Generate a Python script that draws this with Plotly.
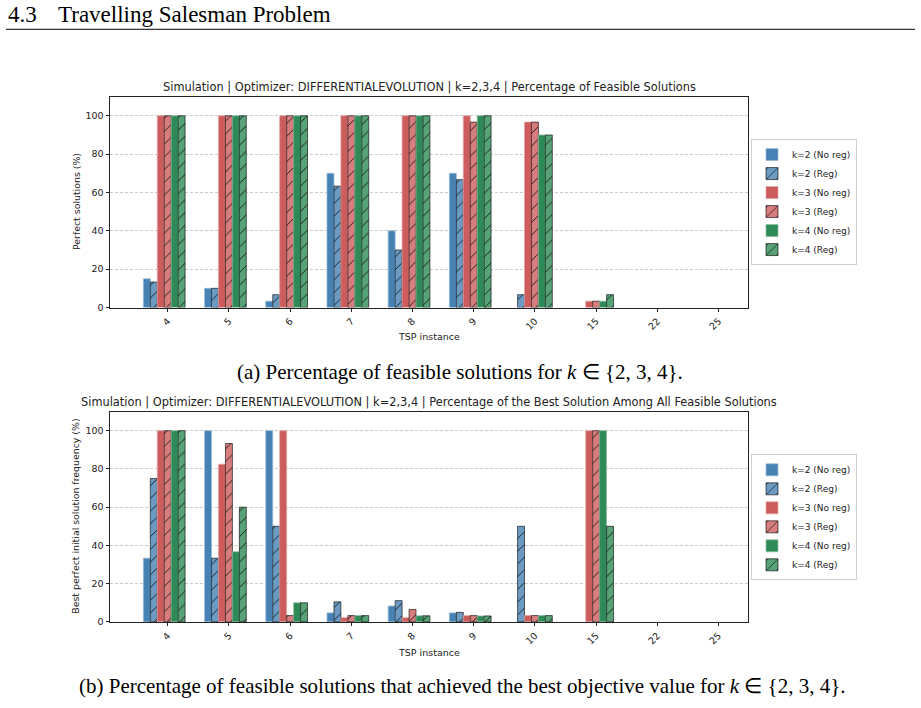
import plotly.graph_objects as go

# ---------------- data ----------------
instances = ["4", "5", "6", "7", "8", "9", "10", "15", "22", "25"]

series_names = ["k=2 (No reg)", "k=2 (Reg)", "k=3 (No reg)", "k=3 (Reg)", "k=4 (No reg)", "k=4 (Reg)"]

# (a) Percentage of feasible solutions
feas_k2_noreg = [15, 10, 3.3, 70, 40, 70, 0, 0, 0, 0]
feas_k2_reg = [13.3, 10, 6.7, 63.3, 30, 66.7, 6.7, 0, 0, 0]
feas_k3_noreg = [100, 100, 100, 100, 100, 100, 96.7, 3.3, 0, 0]
feas_k3_reg = [100, 100, 100, 100, 100, 96.7, 96.7, 3.3, 0, 0]
feas_k4_noreg = [100, 100, 100, 100, 100, 100, 90, 3.3, 0, 0]
feas_k4_reg = [100, 100, 100, 100, 100, 100, 90, 6.7, 0, 0]

# (b) Percentage of the best solution among all feasible solutions
best_k2_noreg = [33.3, 100, 100, 4.7, 8.3, 4.7, 0, 0, 0, 0]
best_k2_reg = [75, 33.3, 50, 10.5, 11.1, 5, 50, 0, 0, 0]
best_k3_noreg = [100, 82.5, 100, 2.2, 2.2, 3.3, 3.3, 100, 0, 0]
best_k3_reg = [100, 93.3, 3.3, 3.3, 6.5, 3.3, 3.3, 100, 0, 0]
best_k4_noreg = [100, 36.7, 10, 3.3, 3.2, 3.1, 3.3, 100, 0, 0]
best_k4_reg = [100, 60, 10, 3.3, 3.2, 3.1, 3.3, 50, 0, 0]

yticks = [0, 20, 40, 60, 80, 100]

# ---------------- styles ----------------
base_colors = ["rgb(70,130,180)", "rgb(107,155,195)",
               "rgb(205,92,92)", "rgb(215,125,125)",
               "rgb(46,139,87)", "rgb(88,162,120)"]
noreg_edges = ["rgba(150,185,215,0.9)", None, "rgba(230,160,160,0.9)", None, "rgba(140,190,160,0.9)", None]
is_reg = [False, True, False, True, False, True]

W, H = 921, 708
FONT = "DejaVu Sans"
SERIF = "Liberation Serif"
bar_w = 0.1136

def px_x(x):
    return x / W

def px_y(y):
    return 1 - y / H

fig = go.Figure()

def add_group(values_list, xa, ya, legend):
    for j, (name, vals) in enumerate(zip(series_names, values_list)):
        marker = dict(color=base_colors[j])
        if is_reg[j]:
            lw = [1.0 if v > 0 else 0 for v in vals]
            marker["line"] = dict(color="rgba(0,0,0,0.6)", width=lw)
            marker["pattern"] = dict(shape="/", fgcolor="rgba(0,0,0,0.85)", bgcolor=base_colors[j],
                                     size=9, solidity=0.1, fillmode="replace")
        else:
            lw = [0.8 if v > 0 else 0 for v in vals]
            marker["line"] = dict(color=noreg_edges[j], width=lw)
        fig.add_trace(go.Bar(
            x=instances, y=vals, name=name, marker=marker,
            width=bar_w, offset=(j - 3.5) * bar_w,
            xaxis=xa, yaxis=ya, legend=legend,
        ))

add_group([feas_k2_noreg, feas_k2_reg, feas_k3_noreg, feas_k3_reg, feas_k4_noreg, feas_k4_reg],
          "x", "y", "legend")
add_group([best_k2_noreg, best_k2_reg, best_k3_noreg, best_k3_reg, best_k4_noreg, best_k4_reg],
          "x2", "y2", "legend2")

xdom = [px_x(110), px_x(748.3)]
xrange_ = [-0.943, 9.486]

def xaxis_cfg(anchor):
    return dict(domain=xdom, anchor=anchor, type="category", range=xrange_,
                showline=True, mirror=True, linecolor="#222", linewidth=1,
                ticks="outside", ticklen=3.5, tickcolor="#222", tickwidth=0.8,
                tickangle=-45, tickfont=dict(family=FONT, size=9.5, color="#222"),
                showgrid=False, zeroline=False, fixedrange=True)

def yaxis_cfg(anchor, dom):
    return dict(domain=dom, anchor=anchor, range=[0, 110], tickvals=yticks,
                showline=True, mirror=True, linecolor="#222", linewidth=1,
                ticks="outside", ticklen=3.5, tickcolor="#222", tickwidth=0.8,
                tickfont=dict(family=FONT, size=9.5, color="#222"),
                showgrid=True, gridcolor="rgba(190,190,190,0.8)", gridwidth=0.8,
                griddash="3px,2px", zeroline=False, fixedrange=True)

legend_common = dict(font=dict(family=FONT, size=9, color="#222"), bgcolor="white",
                     bordercolor="#d0d0d0", borderwidth=1, xanchor="left", yanchor="middle",
                     tracegroupgap=0, itemclick=False)

fig.update_layout(
    width=W, height=H,
    margin=dict(l=0, r=0, t=0, b=0),
    paper_bgcolor="white", plot_bgcolor="white",
    barmode="overlay",
    xaxis=xaxis_cfg("y"),
    yaxis=yaxis_cfg("x", [px_y(309.7), px_y(97.3)]),
    xaxis2=xaxis_cfg("y2"),
    yaxis2=yaxis_cfg("x2", [px_y(626.3), px_y(414.5)]),
    legend=dict(x=px_x(751), y=px_y(203.5), **legend_common),
    legend2=dict(x=px_x(751), y=px_y(521), **legend_common),
    font=dict(family=FONT, color="#222"),
)

annotations = [
    # header
    dict(text="4.3", x=px_x(6), y=px_y(15), xanchor="left", yanchor="middle",
         font=dict(family=SERIF, size=23, color="black")),
    dict(text="Travelling Salesman Problem", x=px_x(56), y=px_y(15), xanchor="left", yanchor="middle",
         font=dict(family=SERIF, size=23, color="black")),
    # chart titles
    dict(text="Simulation | Optimizer: DIFFERENTIALEVOLUTION | k=2,3,4 | Percentage of Feasible Solutions",
         x=px_x(429), y=px_y(88), xanchor="center", yanchor="middle",
         font=dict(family=FONT, size=11.4, color="#222")),
    dict(text="Simulation | Optimizer: DIFFERENTIALEVOLUTION | k=2,3,4 | Percentage of the Best Solution Among All Feasible Solutions",
         x=px_x(429), y=px_y(405), xanchor="center", yanchor="middle",
         font=dict(family=FONT, size=11.4, color="#222")),
    # axis titles
    dict(text="Perfect solutions (%)", x=px_x(76), y=px_y(203.5), textangle=-90,
         xanchor="center", yanchor="middle", font=dict(family=FONT, size=9.4, color="#222")),
    dict(text="Best perfect initial solution frequency (%)", x=px_x(76), y=px_y(520.4), textangle=-90,
         xanchor="center", yanchor="middle", font=dict(family=FONT, size=9.4, color="#222")),
    dict(text="TSP instance", x=px_x(429), y=px_y(339), xanchor="center", yanchor="middle",
         font=dict(family=FONT, size=9.5, color="#222")),
    dict(text="TSP instance", x=px_x(429), y=px_y(657), xanchor="center", yanchor="middle",
         font=dict(family=FONT, size=9.5, color="#222")),
    # captions
    dict(text="(a) Percentage of feasible solutions for <i>k</i> ∈ {2, 3, 4}.",
         x=px_x(460), y=px_y(375), xanchor="center", yanchor="middle",
         font=dict(family=SERIF, size=21, color="black")),
    dict(text="(b) Percentage of feasible solutions that achieved the best objective value for <i>k</i> ∈ {2, 3, 4}.",
         x=px_x(462), y=px_y(691), xanchor="center", yanchor="middle",
         font=dict(family=SERIF, size=21, color="black")),
]
for a in annotations:
    a.update(xref="paper", yref="paper", showarrow=False)
fig.update_layout(annotations=annotations)

fig.add_shape(type="line", xref="paper", yref="paper",
              x0=px_x(6), x1=px_x(915), y0=px_y(29.5), y1=px_y(29.5),
              line=dict(color="black", width=1))

fig.write_html("out.html")
